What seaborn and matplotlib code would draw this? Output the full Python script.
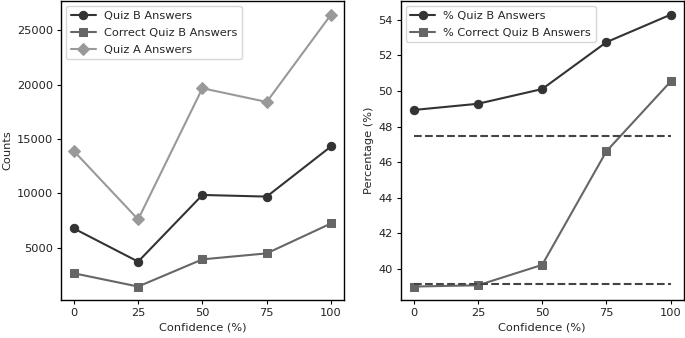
import matplotlib
matplotlib.use("Agg")
import matplotlib.pyplot as plt
import seaborn as sns

confidence = [0, 25, 50, 75, 100]

quiz_b_answers = [6770, 3720, 9850, 9700, 14310]
correct_quiz_b_answers = [2650, 1430, 3930, 4480, 7230]
quiz_a_answers = [13890, 7600, 19660, 18400, 26430]

pct_quiz_b = [48.93, 49.28, 50.11, 52.75, 54.30]
pct_correct_quiz_b = [38.99, 39.06, 40.21, 46.61, 50.54]
baseline_quiz_b = 47.49
baseline_correct = 39.12

sns.set_style("ticks")
plt.rcParams['font.family'] = ['DejaVu Sans']
plt.rcParams['font.size'] = 8.2
plt.rcParams['axes.labelpad'] = 2.8

c_dark = '#333333'
c_mid = '#666666'
c_light = '#999999'

fig = plt.figure(figsize=(6.85, 3.38), dpi=100)
ax1 = fig.add_axes([0.089, 0.112, 0.413, 0.885])
ax2 = fig.add_axes([0.585, 0.112, 0.413, 0.885])

line_kw = dict(linewidth=1.5, markersize=6)
leg_kw = dict(loc='upper left', borderaxespad=0.45, handlelength=2.2,
              handletextpad=0.7, labelspacing=0.62)

sns.lineplot(x=confidence, y=quiz_b_answers, marker='o', color=c_dark,
             markeredgecolor=c_dark, label='Quiz B Answers', ax=ax1, **line_kw)
sns.lineplot(x=confidence, y=correct_quiz_b_answers, marker='s', color=c_mid,
             markeredgecolor=c_mid, label='Correct Quiz B Answers', ax=ax1, **line_kw)
sns.lineplot(x=confidence, y=quiz_a_answers, marker='D', color=c_light,
             markeredgecolor=c_light, label='Quiz A Answers', ax=ax1, **line_kw)
ax1.set_xlabel('Confidence (%)')
ax1.set_ylabel('Counts')
ax1.set_xticks(confidence)
ax1.set_yticks([5000, 10000, 15000, 20000, 25000])
ax1.legend(**leg_kw)

sns.lineplot(x=confidence, y=pct_quiz_b, marker='o', color=c_dark,
             markeredgecolor=c_dark, label='% Quiz B Answers', ax=ax2, **line_kw)
sns.lineplot(x=confidence, y=pct_correct_quiz_b, marker='s', color=c_mid,
             markeredgecolor=c_mid, label='% Correct Quiz B Answers', ax=ax2, **line_kw)
ax2.hlines([baseline_quiz_b, baseline_correct], confidence[0], confidence[-1],
           colors='#444444', linestyles='--', linewidth=1.5)
ax2.set_xlabel('Confidence (%)')
ax2.set_ylabel('Percentage (%)')
ax2.set_xticks(confidence)
ax2.legend(**leg_kw)

for ax in (ax1, ax2):
    for s in ax.spines.values():
        s.set_visible(True)
        s.set_color('black')
        s.set_linewidth(1.0)
    ax.tick_params(colors='black', labelcolor='#222222', length=3, width=0.8, pad=2.8)

fig.savefig('out.png', dpi=100)
